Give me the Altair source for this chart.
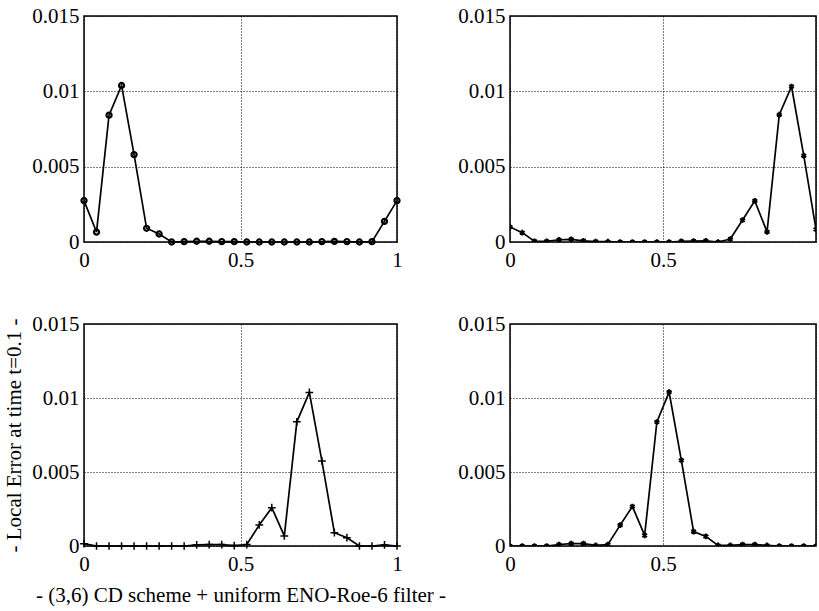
import altair as alt
import pandas as pd

X = [0.0, 0.04, 0.08, 0.12, 0.16, 0.20, 0.24, 0.28, 0.32, 0.36, 0.40, 0.44, 0.48,
     0.52, 0.56, 0.60, 0.64, 0.68, 0.72, 0.76, 0.80, 0.84, 0.88, 0.92, 0.96, 1.0]

err_a = [0.00275, 0.00066, 0.00842, 0.01039, 0.0058, 0.00091, 0.00053, 0.0, 0.00002,
         0.00005, 0.00005, 0.00003, 0.00002, 0.0, 0.0, 0.0, 0.0, 0.0, 0.0, 0.00003,
         0.00004, 0.00003, 0.0, 0.00002, 0.00137, 0.00275]
err_b = [0.001, 0.00062, 0.00005, 0.00005, 0.00015, 0.00018, 0.00008, 0.00003, 0.00002,
         0.0, 0.0, 0.0, 0.0, 0.0, 0.00005, 0.00006, 0.00008, 0.0, 0.0002, 0.00146,
         0.00273, 0.00067, 0.00845, 0.01032, 0.00573, 0.00084]
err_c = [0.00016, 0.0, 0.0, 0.0, 0.0, 0.0, 0.0, 0.0, 0.0, 0.00008, 0.0001, 0.0001,
         0.00003, 0.0001, 0.00142, 0.00259, 0.00068, 0.00839, 0.01038, 0.00575, 0.0009,
         0.00056, 0.0, 0.0, 0.00007, 0.0]
err_d = [0.0, 0.0, 0.0, 0.0, 0.0001, 0.00016, 0.00016, 0.00004, 0.0001, 0.00141,
         0.00267, 0.00072, 0.00838, 0.0104, 0.00579, 0.00097, 0.00065, 0.00004, 0.00004,
         0.0001, 0.0001, 0.00004, 0.0, 0.0, 0.0, 0.0]

X_TICKS = [0, 0.5, 1]
Y_TICKS = [0, 0.005, 0.01, 0.015]
Y_TITLE = "- Local Error at time t=0.1 -"
X_TITLE = "- (3,6) CD scheme + uniform ENO-Roe-6 filter -"

FONT = "Liberation Serif"
FS = 21
ASTERISK = "M0,-1L0,1M-0.87,-0.5L0.87,0.5M-0.87,0.5L0.87,-0.5"
PLUS = "M-1,0L1,0M0,-1L0,1"


def panel(vals, shape, size, filled, sw, width, height, xtitle=None, ytitle=None,
          hide_one=False, clip=False):
    df = pd.DataFrame({"x": X, "y": vals})
    xaxis_kwargs = dict(values=X_TICKS, format="~g", grid=True, ticks=False,
                        labelPadding=7, domain=False, labelFlush=False)
    if hide_one:
        xaxis_kwargs["labelExpr"] = "datum.value == 1 ? '' : datum.label"
    if xtitle:
        xaxis_kwargs["title"] = xtitle
        xaxis_kwargs["titlePadding"] = 10
    else:
        xaxis_kwargs["title"] = None
    yaxis_kwargs = dict(values=Y_TICKS, format="~g", grid=True, ticks=False,
                        labelPadding=5, domain=False, labelFlush=False)
    if ytitle:
        yaxis_kwargs["title"] = ytitle
        yaxis_kwargs["titlePadding"] = 7
    else:
        yaxis_kwargs["title"] = None
    xenc = alt.X("x:Q", scale=alt.Scale(domain=[0, 1], nice=False, zero=False),
                 axis=alt.Axis(**xaxis_kwargs))
    yenc = alt.Y("y:Q", scale=alt.Scale(domain=[0, 0.015], nice=False),
                 axis=alt.Axis(**yaxis_kwargs))
    base = alt.Chart(df)
    line = base.mark_line(color="black", strokeWidth=1.7, clip=clip).encode(x=xenc, y=yenc)
    pts = base.mark_point(shape=shape, size=size, filled=filled, color="black",
                          strokeWidth=sw, opacity=1, clip=clip).encode(x="x:Q", y="y:Q")
    return (line + pts).properties(width=width, height=height)


p1 = panel(err_a, "circle", 26, False, 2.2, 313, 226)
p2 = panel(err_b, ASTERISK, 32, False, 2.0, 306, 226, hide_one=True, clip=True)
p3 = panel(err_c, PLUS, 60, False, 1.5, 313, 222, xtitle=X_TITLE, ytitle=Y_TITLE)
p4 = panel(err_d, ASTERISK, 32, False, 2.0, 306, 222, hide_one=True, clip=True)

chart = alt.concat(p1, p2, p3, p4, columns=2, bounds="flush",
                   spacing={"row": 82, "column": 113}).properties(
    padding={"left": 2, "top": 4, "right": 0, "bottom": 0},
    background="white",
).configure_view(
    stroke="black", strokeWidth=1.5
).configure_axis(
    labelFont=FONT, titleFont=FONT, labelFontSize=FS, titleFontSize=FS,
    titleFontWeight="normal", labelColor="black", titleColor="black",
    gridColor="black", gridDash=[1, 2], gridWidth=1, gridOpacity=1,
)

chart.save("out.html", embed_options={"renderer": "svg", "actions": False})
